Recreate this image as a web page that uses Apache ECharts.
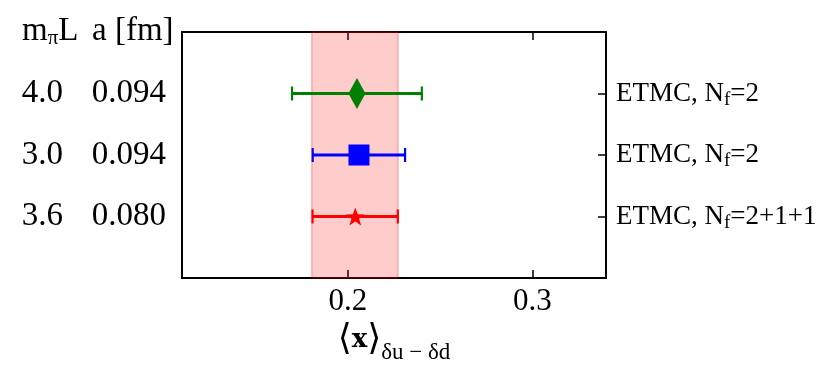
<!DOCTYPE html>
<html><head><meta charset="utf-8">
<script src="https://cdn.jsdelivr.net/npm/echarts@6/dist/echarts.min.js"></script>
<style>html,body{margin:0;padding:0;background:#fff}#c{width:831px;height:381px}</style>
</head><body><div id="c"></div>
<script>
// rows listed top to bottom
const collabName = ['ETMC', 'ETMC', 'ETMC'];
const nfLabels = ['2', '2', '2+1+1'];
const mpiL = ['4.0', '3.0', '3.6'];
const aFm = ['0.094', '0.094', '0.080'];
const central = [0.2049, 0.2060, 0.2040];
const lower = [0.1697, 0.1809, 0.1808];
const upper = [0.2401, 0.2310, 0.2271];
const band = [0.1804, 0.2272];
const xTicks = [0.2, 0.3];
const colors = ['#008000', '#0000ff', '#ff0000'];

const FONT = 'Liberation Serif, DejaVu Serif, serif';
const n = collabName.length;
const rowOf = i => n - i;            // row index on the y value axis (top row highest)
const idxOf = v => n - v;
const rowTicks = collabName.map((_, i) => rowOf(i));

const starPath = 'path://M0,-10 L2.35,-3.24 L9.51,-3.09 L3.8,1.24 L5.88,8.09 L0,4 L-5.88,8.09 L-3.8,1.24 L-9.51,-3.09 L-2.35,-3.24 Z';
const symbols = ['diamond', 'rect', starPath];
const symbolSizes = [[17, 31], [21, 21], [19, 18]];

const chart = echarts.init(document.getElementById('c'));
const axisLineStyle = { color: '#000', width: 2 };
const yBase = { type: 'value', min: 0, max: n + 1, interval: 1, splitLine: { show: false } };

chart.setOption({
  animation: false,
  backgroundColor: '#fff',
  grid: { left: 182, right: 225, top: 32, bottom: 103, containLabel: false, outerBoundsMode: 'none' },
  title: [
    { text: '{m|m}{s|π}{m|L}', left: 17, top: 8,
      textStyle: { fontWeight: 'normal', rich: {
        m: { fontFamily: FONT, fontSize: 33, fontWeight: 'normal', color: '#000', lineHeight: 36 },
        s: { fontFamily: FONT, fontSize: 21, fontWeight: 'normal', color: '#000', verticalAlign: 'bottom', lineHeight: 21, padding: [12, 0, 0, 0] } } } },
    { text: 'a [fm]', left: 87, top: 8,
      textStyle: { fontFamily: FONT, fontSize: 33, fontWeight: 'normal', color: '#000', lineHeight: 36 } }
  ],
  xAxis: [
    { type: 'value', position: 'bottom', min: 0.11, max: 0.34,
      axisLine: { show: true, onZero: false, lineStyle: axisLineStyle },
      axisTick: { show: true, inside: true, length: 8, customValues: xTicks, lineStyle: { color: '#000', width: 1.5 } },
      axisLabel: { customValues: xTicks, formatter: v => v.toFixed(1), fontFamily: FONT, fontSize: 31, color: '#000', margin: 8 },
      splitLine: { show: false },
      name: '{b|⟨}{x|x}{b|⟩}{s|δu − δd}', nameLocation: 'middle', nameGap: 45,
      nameTextStyle: { rich: {
        b: { fontFamily: 'DejaVu Serif, DejaVu Sans', fontSize: 36, color: '#000', lineHeight: 36, padding: [0, 0, 13, 0] },
        x: { fontFamily: 'DejaVu Serif', fontWeight: 'bold', fontSize: 26, color: '#000', lineHeight: 36, padding: [0, 0, 13, 0] },
        s: { fontFamily: FONT, fontSize: 23, color: '#000', verticalAlign: 'bottom', lineHeight: 23 } } } },
    { type: 'value', position: 'top', min: 0.11, max: 0.34,
      axisLine: { show: true, onZero: false, lineStyle: axisLineStyle },
      axisTick: { show: true, inside: true, length: 8, customValues: xTicks, lineStyle: { color: '#000', width: 1.5 } },
      axisLabel: { show: false }, splitLine: { show: false } }
  ],
  yAxis: [
    Object.assign({}, yBase, { position: 'left',
      axisLine: { show: true, onZero: false, lineStyle: axisLineStyle }, axisTick: { show: false },
      axisLabel: { formatter: v => (v >= 1 && v <= n) ? aFm[idxOf(v)] : '', fontFamily: FONT, fontSize: 33, color: '#000', margin: 16 } }),
    Object.assign({}, yBase, { position: 'left',
      axisLine: { show: false, onZero: false }, axisTick: { show: false },
      axisLabel: { formatter: v => (v >= 1 && v <= n) ? mpiL[idxOf(v)] : '', fontFamily: FONT, fontSize: 33, color: '#000', margin: 119 } }),
    Object.assign({}, yBase, { position: 'right',
      axisLine: { show: true, onZero: false, lineStyle: axisLineStyle },
      axisTick: { show: true, inside: true, length: 8, customValues: rowTicks, lineStyle: { color: '#000', width: 1.5 } },
      axisLabel: { customValues: rowTicks, margin: 10,
        formatter: v => '{n|' + collabName[idxOf(v)] + ', N}{s|f}{n|=' + nfLabels[idxOf(v)] + '}',
        rich: {
          n: { fontFamily: FONT, fontSize: 27, color: '#000', lineHeight: 32 },
          s: { fontFamily: FONT, fontSize: 19, color: '#000', verticalAlign: 'bottom', lineHeight: 19, padding: [10, 0, 0, 0] } } } })
  ],
  series: [
    { type: 'scatter', data: [], z: 1, xAxisIndex: 0, yAxisIndex: 0,
      markArea: { silent: true, z: 1,
        itemStyle: { color: 'rgba(255,0,0,0.2)', borderColor: 'rgba(255,0,0,0.25)', borderWidth: 1.5 },
        data: [[{ xAxis: band[0] }, { xAxis: band[1] }]] } },
    { type: 'custom', z: 3, xAxisIndex: 0, yAxisIndex: 0,
      data: central.map((c, i) => [lower[i], upper[i], rowOf(i), i]),
      encode: { x: [0, 1], y: 2 },
      renderItem(params, api) {
        const lo = api.coord([api.value(0), api.value(2)]);
        const hi = api.coord([api.value(1), api.value(2)]);
        const col = colors[api.value(3)];
        const h = 7;
        return { type: 'group', children: [
          { type: 'line', shape: { x1: lo[0], y1: lo[1], x2: hi[0], y2: hi[1] }, style: { stroke: col, lineWidth: 3 } },
          { type: 'line', shape: { x1: lo[0], y1: lo[1] - h, x2: lo[0], y2: lo[1] + h }, style: { stroke: col, lineWidth: 2.2 } },
          { type: 'line', shape: { x1: hi[0], y1: hi[1] - h, x2: hi[0], y2: hi[1] + h }, style: { stroke: col, lineWidth: 2.2 } }
        ] };
      } },
    { type: 'scatter', z: 4, xAxisIndex: 0, yAxisIndex: 0,
      data: central.map((c, i) => ({ value: [c, rowOf(i)], symbol: symbols[i], symbolSize: symbolSizes[i],
        itemStyle: { color: colors[i], opacity: 1 } })) }
  ]
});
</script></body></html>
